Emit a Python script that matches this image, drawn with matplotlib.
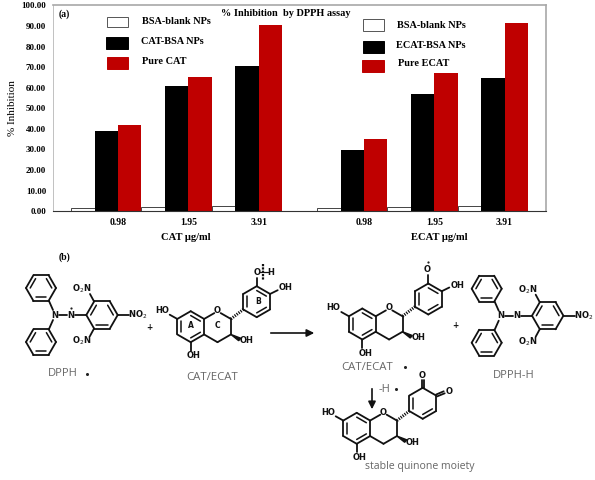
# -*- coding: utf-8 -*-
import numpy as np
import matplotlib
matplotlib.use("Agg")
import matplotlib.pyplot as plt
from matplotlib.patches import Rectangle

# Values
doses = ["0.98", "1.95", "3.91", "0.98", "1.95", "3.91"]
blank_nps = [1.5, 2.0, 2.5, 1.5, 2.0, 2.5]
loaded_nps = [39.0, 61.0, 70.5, 30.0, 57.0, 64.5]
pure_drug = [42.0, 65.0, 90.5, 35.0, 67.0, 91.5]
group_pos = [0, 1, 2, 3.5, 4.5, 5.5]

RED = "#bf0000"
SERIF = "Liberation Serif"
GRAY_TXT = "#666666"

plt.rcParams["font.family"] = SERIF
fig = plt.figure(figsize=(5.95, 4.8), dpi=100)
ax = fig.add_axes([53 / 595, (480 - 211.3) / 480, 493 / 595, 206 / 480])

# Bars, the tick sits on the black/red boundary
w = 1 / 3
pos = np.array(group_pos)
ax.bar(pos - 1.5 * w, blank_nps, w, color="white", edgecolor="#444444", linewidth=0.7)
ax.bar(pos - 0.5 * w, loaded_nps, w, color="black")
ax.bar(pos + 0.5 * w, pure_drug, w, color=RED)
ax.set_xlim(-0.925, 6.09)
ax.set_ylim(0, 100)
ax.set_yticks(np.arange(0, 101, 10))
ax.set_yticklabels([f"{v:.2f}" for v in np.arange(0, 101, 10)], fontsize=6.5, fontweight="bold")
ax.set_xticks(group_pos)
ax.set_xticklabels(doses, fontsize=7, fontweight="bold")
ax.tick_params(length=0, pad=5)
ax.set_ylabel("% Inhibition", fontsize=8, labelpad=3)
for s in ["top", "right", "left"]:
    ax.spines[s].set_color("#a8a8a8")
    ax.spines[s].set_linewidth(1.2)
ax.spines["left"].set_linewidth(0.5)
ax.spines["bottom"].set_color("#333333")
ax.spines["bottom"].set_linewidth(0.8)

# Overlay in image pixels for the legends, labels and the reaction scheme
ov = fig.add_axes([0, 0, 1, 1], facecolor="none")
ov.set_xlim(0, 595)
ov.set_ylim(480, 0)
ov.axis("off")


def serif(x, y, s, size=7, ha="left"):
    ov.text(x, y, s, fontsize=size, fontweight="bold", ha=ha, va="center", family=SERIF)


def swatch(x, y, w_, h_, fc):
    ov.add_patch(Rectangle((x, y), w_, h_, fc=fc, ec="#555555" if fc == "white" else fc, lw=0.7))


serif(59, 14, "(a)")
serif(221, 14, "% Inhibition  by DPPH assay", 7.4)
serif(59, 257, "(b)")
serif(186, 238, "CAT µg/ml", 7.6, "center")
serif(439, 238, "ECAT µg/ml", 7.6, "center")

swatch(107, 17, 21, 10, "white")
swatch(106, 37, 22, 12, "black")
swatch(107, 57, 21, 12, RED)
serif(142, 22, "BSA-blank NPs", 7.4)
serif(141, 42, "CAT-BSA NPs", 7.4)
serif(142, 62, "Pure CAT", 7.4)
swatch(363, 19, 21, 12, "white")
swatch(363, 41, 21, 12, "black")
swatch(362, 60, 22, 12, RED)
serif(397, 26, "BSA-blank NPs", 7.4)
serif(396, 46, "ECAT-BSA NPs", 7.4)
serif(398, 64, "Pure ECAT", 7.4)


def bond(x0, y0, x1, y1, lw=1.3):
    ov.plot([x0, x1], [y0, y1], color="#111111", lw=lw, solid_capstyle="round")


def atom(x, y, s, size=6):
    ov.text(x, y, s, fontsize=size, fontweight="bold", ha="center", va="center",
            family="DejaVu Sans", color="#111111")


def dot(x, y, size=2):
    ov.plot([x], [y], "o", color="#222222", ms=size, mew=0)


def ring(cx, cy, r, start, inner=(), skip=()):
    a = np.radians(start + 60 * np.arange(7))
    vx = cx + r * np.cos(a)
    vy = cy - r * np.sin(a)
    for i in range(6):
        if i not in skip:
            bond(vx[i], vy[i], vx[i + 1], vy[i + 1])
    for i in inner:
        x0, y0 = cx + 0.72 * (vx[i] - cx), cy + 0.72 * (vy[i] - cy)
        x1, y1 = cx + 0.72 * (vx[i + 1] - cx), cy + 0.72 * (vy[i + 1] - cy)
        bond(x0, y0, x1, y1, 1.1)


def hydrazyl(nx, ny, radical):
    # nx, ny is the diphenyl nitrogen
    ring(nx - 14, ny - 27, 15, 0, inner=(0, 2, 4))
    ring(nx - 14, ny + 27, 15, 0, inner=(0, 2, 4))
    bond(nx - 6, ny - 14, nx - 2, ny - 5)
    bond(nx - 6, ny + 14, nx - 2, ny + 5)
    atom(nx, ny, "N")
    bond(nx + 4, ny, nx + 12, ny)
    atom(nx + 16, ny, "N")
    if radical:
        dot(nx + 16, ny - 7, 1.6)
    bond(nx + 20, ny, nx + 31, ny)
    ring(nx + 47, ny, 15.7, 0, inner=(0, 2, 4))
    bond(nx + 39, ny - 13.6, nx + 35, ny - 21)
    bond(nx + 39, ny + 13.6, nx + 35, ny + 21)
    atom(nx + 27, ny - 26, "O$_2$N")
    atom(nx + 27, ny + 26, "O$_2$N")
    bond(nx + 63, ny, nx + 74, ny)
    atom(nx + 83, ny, "NO$_2$")


def flavan(ax_, ay, b_ring="catechol"):
    # ax_, ay is the centre of ring A
    r = 15.5
    ring(ax_, ay, r, 90, inner=(1, 3, 5))
    # ring C shares the right edge of A and has the oxygen at its top
    ring(ax_ + 26.8, ay, r, 90, skip=(0, 1, 5))
    bond(ax_ + 30, ay - 13.6, ax_ + 40.2, ay - 7.75)
    bond(ax_ + 13.4, ay - 7.75, ax_ + 23.6, ay - 13.6)
    atom(ax_ + 26.8, ay - 16, "O")
    bond(ax_ - 13.4, ay - 7.75, ax_ - 21, ay - 12)
    atom(ax_ - 29, ay - 16, "HO")
    bond(ax_, ay + 15.5, ax_, ay + 24)
    atom(ax_ + 3, ay + 29, "OH")
    # wedges at C2 and C3
    ov.plot([ax_ + 40.2, ax_ + 52.6], [ay - 7.75, ay - 17.25], color="#111111", lw=2.2, ls=(0, (0.4, 0.4)))
    ov.fill([ax_ + 40.2, ax_ + 50, ax_ + 48], [ay + 7.75, ay + 11.5, ay + 14], color="#111111")
    atom(ax_ + 56, ay + 14, "OH")
    bx, by = ax_ + 66, ay - 25
    if b_ring == "quinone":
        ring(bx, by, 15.5, 90, inner=(1, 3))
        bond(bx - 1, by - 15.5, bx - 1, by - 23)
        bond(bx + 1, by - 15.5, bx + 1, by - 23)
        atom(bx - 1, by - 28, "O")
        bond(bx + 13.4, by - 8.75, bx + 21, by - 12)
        bond(bx + 14.4, by - 6.9, bx + 22, by - 10)
        atom(bx + 26, by - 12, "O")
        return
    ring(bx, by, 15.5, 90, inner=(1, 3, 5))
    bond(bx, by - 15.5, bx, by - 24)
    bond(bx + 13.4, by - 7.75, bx + 21, by - 11.5)
    atom(bx + 29, by - 14, "OH")


# Reaction scheme
hydrazyl(55, 315, True)
flavan(190.7, 326.7)
atom(191, 326, "A", 5.5)
atom(217.5, 326, "C", 5.5)
atom(258.5, 301.7, "B", 5.5)
atom(256.7, 272.3, "O")
atom(271, 272.3, "H")
ov.plot([263, 263], [264, 280], color="#111111", lw=1.6, ls=(0, (1, 0.5)))
bond(260, 272.3, 268, 272.3, 0.9)

flavan(362.3, 324)
atom(427.3, 269, "O")
dot(428, 262, 1.6)

hydrazyl(500.7, 315.7, False)
flavan(356.7, 428.3, "quinone")

ov.annotate("", xy=(317, 333), xytext=(268, 333),
            arrowprops=dict(arrowstyle="-|>", color="#111111", lw=1.2, mutation_scale=11))
ov.annotate("", xy=(372, 412), xytext=(372, 386),
            arrowprops=dict(arrowstyle="-|>", color="#111111", lw=1.2, mutation_scale=11))


def caption(x, y, s, size=8):
    ov.text(x, y, s, fontsize=size, ha="center", va="center", family="Open Sans", color=GRAY_TXT)


caption(63, 373, "DPPH")
caption(212, 378, "CAT/ECAT", 8.2)
caption(367, 367, "CAT/ECAT", 8.2)
caption(514, 375, "DPPH-H")
caption(384, 390, "-H")
caption(420, 467, "stable quinone moiety", 7.6)
for x, y in [(87, 374), (405, 367), (396, 389)]:
    dot(x, y, 2.2)
atom(149, 327, "+", 5.5)
atom(455, 326, "+", 5.5)

fig.savefig("out.png", dpi=100)
